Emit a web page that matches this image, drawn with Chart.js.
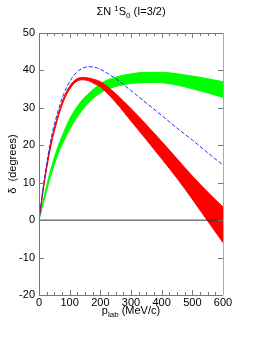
<!DOCTYPE html>
<html>
<head>
<meta charset="utf-8">
<script src="https://cdn.jsdelivr.net/npm/chart.js@4/dist/chart.umd.min.js"></script>
<style>
  html, body { margin: 0; padding: 0; background: #fff; }
  canvas { display: block; }
</style>
</head>
<body>
<canvas id="myChart" width="270" height="349"></canvas>
<script>
// p_lab grid (MeV/c) and phase shifts (degrees)
var pLab    = [0, 20, 40, 60, 80, 100, 120, 140, 160, 180, 200, 250, 300, 350, 400, 450, 500, 550, 600];
var redLow  = [0, 11.3, 20.3, 26.8, 31.8, 35.0, 36.9, 37.5, 37.3, 36.5, 35.6, 31.5, 26.5, 21.5, 16.4, 11.2, 5.6, -0.2, -6.0];
var redHigh = [0.3, 12.0, 21.1, 27.6, 32.6, 35.8, 37.6, 38.1, 38.0, 37.6, 37.0, 33.8, 29.8, 25.5, 21.0, 16.4, 11.8, 7.5, 3.5];
var greenLow  = [0, 6.3, 12.3, 17.2, 21.0, 24.3, 27.0, 29.3, 31.2, 32.8, 34.0, 35.7, 36.5, 36.8, 36.7, 36.1, 35.1, 34.0, 32.8];
var greenHigh = [0.3, 7.5, 14.0, 19.2, 23.4, 27.0, 29.8, 32.0, 33.7, 35.2, 36.5, 38.2, 39.1, 39.5, 39.5, 39.1, 38.5, 37.8, 37.0];
var blueLine  = [0, 12.5, 22.0, 28.6, 33.6, 37.0, 39.3, 40.5, 41.0, 40.9, 40.3, 37.8, 34.6, 31.3, 28.0, 24.6, 21.4, 18.0, 14.7];

var xTicks = [0, 100, 200, 300, 400, 500, 600];
var yTicks = [-20, -10, 0, 10, 20, 30, 40, 50];

function pts(arr) {
  return arr.map(function(v, i) { return { x: pLab[i], y: v }; });
}

var FONT = '"Liberation Sans", Arial, Helvetica, sans-serif';

// draws a row of text pieces (for sub/superscripts), centred at cx
function drawPieces(ctx, pieces, cx, baseY) {
  var total = 0;
  pieces.forEach(function(p) {
    ctx.font = (p.size || 11) + 'px ' + FONT;
    p.w = ctx.measureText(p.t).width;
    total += p.w;
  });
  var x = cx - total / 2;
  ctx.textAlign = 'left';
  ctx.textBaseline = 'alphabetic';
  pieces.forEach(function(p) {
    ctx.font = (p.size || 11) + 'px ' + FONT;
    ctx.fillText(p.t, x, baseY + (p.dy || 0));
    x += p.w;
  });
}

var framePlugin = {
  id: 'frame',
  afterDraw: function(chart) {
    var ctx = chart.ctx;
    var a = chart.chartArea;
    var xs = chart.scales.x, ys = chart.scales.y;
    ctx.save();
    ctx.lineWidth = 1;

    // ticks, pointing inward, bottom and top
    ctx.strokeStyle = '#777';
    ctx.beginPath();
    for (var v = 0; v <= 600; v += 25) {
      var px = Math.round(xs.getPixelForValue(v)) + 0.5;
      var len = (v % 100 === 0) ? 5 : 3;
      ctx.moveTo(px, a.bottom); ctx.lineTo(px, a.bottom - len);
      ctx.moveTo(px, a.top); ctx.lineTo(px, a.top + len);
    }
    yTicks.forEach(function(t) {
      var py = Math.round(ys.getPixelForValue(t)) + 0.5;
      ctx.moveTo(a.left, py); ctx.lineTo(a.left + 5, py);
      ctx.moveTo(a.right, py); ctx.lineTo(a.right - 5, py);
    });
    ctx.stroke();

    // frame
    ctx.strokeStyle = '#777';
    ctx.beginPath();
    ctx.moveTo(Math.round(a.left) + 0.5, a.top);
    ctx.lineTo(Math.round(a.left) + 0.5, a.bottom);
    ctx.moveTo(a.left, Math.round(a.bottom) + 0.5);
    ctx.lineTo(a.right, Math.round(a.bottom) + 0.5);
    ctx.moveTo(a.left, Math.round(a.top) + 0.5);
    ctx.lineTo(a.right, Math.round(a.top) + 0.5);
    ctx.stroke();
    ctx.strokeStyle = '#aaa';
    ctx.beginPath();
    ctx.moveTo(Math.round(a.right) + 0.5, a.top);
    ctx.lineTo(Math.round(a.right) + 0.5, a.bottom);
    ctx.stroke();

    // title and axis titles
    ctx.fillStyle = '#000';
    var cx = (a.left + a.right) / 2;
    drawPieces(ctx, [
      { t: '\u03A3N ' },
      { t: '1', size: 8, dy: -4 },
      { t: 'S' },
      { t: '0', size: 8, dy: 3 },
      { t: ' (I=3/2)' }
    ], cx, 15);
    drawPieces(ctx, [
      { t: 'p' },
      { t: 'lab', size: 8, dy: 3 },
      { t: ' (MeV/c)' }
    ], cx, 314);

    ctx.translate(13, (a.top + a.bottom) / 2);
    ctx.rotate(-Math.PI / 2);
    ctx.font = '11px ' + FONT;
    ctx.textAlign = 'center';
    ctx.textBaseline = 'middle';
    ctx.fillText('\u03B4  (degrees)', 0, 0);
    ctx.restore();
  }
};

var ctx = document.getElementById('myChart').getContext('2d');
var myChart = new Chart(ctx, {
  type: 'line',
  data: {
    datasets: [{
      label: 'zero',
      data: [{ x: 0, y: 0 }, { x: 600, y: 0 }],
      borderColor: '#333',
      borderWidth: 1,
      pointRadius: 0,
      fill: false
    }, {
      label: 'blue',
      data: pts(blueLine),
      borderColor: '#2a2aff',
      borderWidth: 1,
      borderDash: [4, 2],
      pointRadius: 0,
      cubicInterpolationMode: 'monotone',
      fill: false
    }, {
      label: 'red high',
      data: pts(redHigh),
      borderColor: '#ff0000',
      backgroundColor: '#ff0000',
      borderWidth: 1,
      pointRadius: 0,
      cubicInterpolationMode: 'monotone',
      fill: '+1'
    }, {
      label: 'red low',
      data: pts(redLow),
      borderColor: '#ff0000',
      borderWidth: 1,
      pointRadius: 0,
      cubicInterpolationMode: 'monotone',
      fill: false
    }, {
      label: 'green high',
      data: pts(greenHigh),
      borderColor: '#00ff00',
      backgroundColor: '#00ff00',
      borderWidth: 1,
      pointRadius: 0,
      cubicInterpolationMode: 'monotone',
      fill: '+1'
    }, {
      label: 'green low',
      data: pts(greenLow),
      borderColor: '#00ff00',
      borderWidth: 1,
      pointRadius: 0,
      cubicInterpolationMode: 'monotone',
      fill: false
    }]
  },
  options: {
    responsive: false,
    animation: false,
    devicePixelRatio: 1,
    layout: { padding: { left: 0, right: 47, top: 33, bottom: 0 } },
    plugins: {
      legend: { display: false },
      tooltip: { enabled: false },
      title: { display: false }
    },
    scales: {
      x: {
        type: 'linear',
        min: 0,
        max: 600,
        afterBuildTicks: function(s) { s.ticks = xTicks.map(function(v) { return { value: v }; }); },
        afterFit: function(s) { s.height = 54; },
        ticks: { color: '#000', font: { family: FONT, size: 11 }, padding: 1, maxRotation: 0 },
        grid: { display: false, drawTicks: false },
        border: { display: false }
      },
      y: {
        type: 'linear',
        min: -20,
        max: 50,
        afterBuildTicks: function(s) { s.ticks = yTicks.map(function(v) { return { value: v }; }); },
        afterFit: function(s) { s.width = 39; },
        ticks: { color: '#000', font: { family: FONT, size: 11 }, padding: 4 },
        grid: { display: false, drawTicks: false },
        border: { display: false }
      }
    }
  },
  plugins: [framePlugin]
});
</script>
</body>
</html>
